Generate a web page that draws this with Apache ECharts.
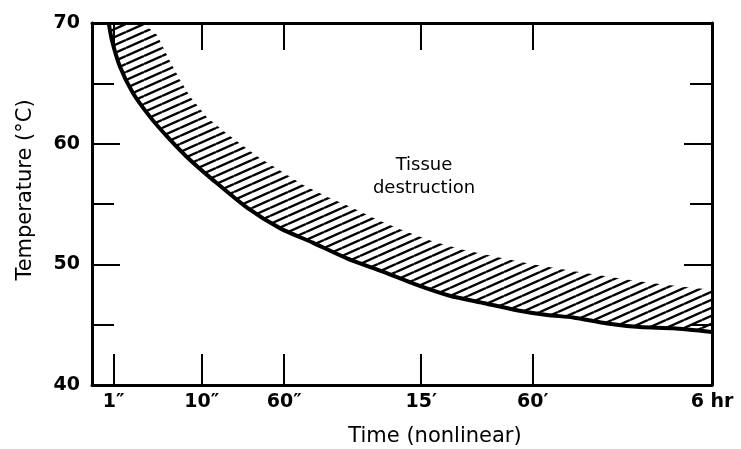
<!DOCTYPE html>
<html>
<head>
<meta charset="utf-8">
<script src="https://cdn.jsdelivr.net/npm/echarts@6/dist/echarts.min.js"></script>
<style>
  html, body { margin: 0; padding: 0; background: #fff; }
  #chart { width: 741px; height: 449px; }
</style>
</head>
<body>
<div id="chart"></div>
<script>
// Nonlinear time scale: axis units 0..100 across the plot
const xTickLabels = ['1\u2033', '10\u2033', '60\u2033', '15\u2032', '60\u2032', '6 hr'];
const xTickValues = [3.5, 17.7, 31.0, 53.1, 71.1, 100];
const yTickValues = [40, 50, 60, 70];

// Lower boundary (thick line) of tissue destruction
const lowerX = [2.7, 3.2, 4.5, 6.6, 9.4, 12.1, 15.3, 19.5, 25.0, 30.3, 35.6, 41.1, 46.9, 52.4, 57.7, 63.1, 68.5, 73.4, 77.6, 83.1, 88.4, 93.7, 100];
const lowerT = [70.0, 68.6, 66.4, 64.2, 62.2, 60.6, 58.9, 57.0, 54.7, 53.0, 51.8, 50.5, 49.4, 48.3, 47.4, 46.8, 46.2, 45.8, 45.6, 45.1, 44.8, 44.7, 44.4];

// Upper edge of the hatched band
const upperX = [8.2, 10.5, 12.6, 14.2, 15.8, 18.5, 21.1, 24.4, 27.1, 30.6, 34.0, 37.9, 41.9, 46.0, 50.2, 55.0, 59.8, 65.3, 71.0, 76.8, 83.1, 89.5, 96.0, 100];
const upperT = [70.0, 69.0, 66.8, 65.3, 63.9, 62.2, 61.1, 59.8, 58.8, 57.7, 56.6, 55.6, 54.7, 53.7, 52.8, 51.9, 51.2, 50.6, 50.0, 49.5, 49.0, 48.5, 48.1, 47.9];

const annotationText = 'Tissue\ndestruction';
const xName = 'Time (nonlinear)';
const yName = 'Temperature (\u00B0C)';

// hatch pattern
function makeHatch() {
  const w = 18, h = 8;
  const c = document.createElement('canvas');
  c.width = w; c.height = h;
  const ctx = c.getContext('2d');
  ctx.strokeStyle = '#000';
  ctx.lineWidth = 2.4;
  for (const off of [-h, 0, h]) {
    ctx.beginPath();
    ctx.moveTo(0, h + off);
    ctx.lineTo(w, 0 + off);
    ctx.stroke();
  }
  return c;
}
const hatch = makeHatch();

const chart = echarts.init(document.getElementById('chart'), null, { renderer: 'canvas' });

const axisFont = { fontFamily: 'DejaVu Sans', fontSize: 19, fontWeight: 'bold', color: '#000' };

function xFormatter(v) {
  for (let i = 0; i < xTickValues.length; i++) {
    if (Math.abs(xTickValues[i] - v) < 1e-6) return xTickLabels[i];
  }
  return '';
}

const yAxisBase = {
  type: 'value', min: 40, max: 70, interval: 10,
  axisLine: { show: true, onZero: false, lineStyle: { color: '#000', width: 3 } },
  axisTick: { show: true, inside: true, length: 28, lineStyle: { color: '#000', width: 2 } },
  minorTick: { show: true, splitNumber: 2, length: 22, lineStyle: { color: '#000', width: 2 } },
  splitLine: { show: false },
  minorSplitLine: { show: false }
};

chart.setOption({
  animation: false,
  backgroundColor: '#fff',
  grid: { left: 92, right: 29, top: 23, bottom: 64 },
  xAxis: [
    {
      type: 'value', min: 0, max: 100, position: 'bottom',
      axisLine: { show: true, onZero: false, lineStyle: { color: '#000', width: 3 } },
      axisTick: { show: true, inside: true, length: 31, customValues: xTickValues, lineStyle: { color: '#000', width: 2 } },
      axisLabel: Object.assign({ customValues: xTickValues, formatter: xFormatter, margin: 8 }, axisFont),
      splitLine: { show: false }
    },
    {
      type: 'value', min: 0, max: 100, position: 'top',
      axisLine: { show: true, onZero: false, lineStyle: { color: '#000', width: 3 } },
      axisTick: { show: true, inside: true, length: 27, customValues: xTickValues, lineStyle: { color: '#000', width: 2 } },
      axisLabel: { show: false },
      splitLine: { show: false }
    }
  ],
  yAxis: [
    Object.assign({}, yAxisBase, {
      position: 'left',
      axisLabel: Object.assign({ margin: 12 }, axisFont)
    }),
    Object.assign({}, yAxisBase, {
      position: 'right',
      axisLabel: { show: false }
    })
  ],
  series: [
    {
      type: 'custom',
      name: 'band',
      coordinateSystem: 'cartesian2d',
      xAxisIndex: 0, yAxisIndex: 0,
      data: [[0, 0]],
      z: 1,
      renderItem: function (params, api) {
        const pts = [];
        for (let i = 0; i < lowerX.length; i++) pts.push(api.coord([lowerX[i], lowerT[i]]));
        for (let i = upperX.length - 1; i >= 0; i--) pts.push(api.coord([upperX[i], upperT[i]]));
        return {
          type: 'polygon',
          shape: { points: pts, smooth: 0 },
          style: { fill: { image: hatch, repeat: 'repeat' }, stroke: null }
        };
      }
    },
    {
      type: 'line',
      name: 'lower',
      xAxisIndex: 0, yAxisIndex: 0,
      data: lowerX.map((x, i) => [x, lowerT[i]]),
      showSymbol: false,
      symbol: 'none',
      smooth: 0.25,
      z: 3,
      lineStyle: { color: '#000', width: 4 }
    }
  ],
  graphic: [
    {
      type: 'text',
      x: 26, y: 190,
      rotation: Math.PI / 2,
      style: { text: yName, fontFamily: 'DejaVu Sans', fontSize: 21, fill: '#000', align: 'center', verticalAlign: 'middle' }
    },
    {
      type: 'text',
      x: 435, y: 437,
      style: { text: xName, fontFamily: 'DejaVu Sans', fontSize: 21, fill: '#000', align: 'center', verticalAlign: 'middle' }
    },
    {
      type: 'text',
      x: 424, y: 177,
      style: { text: annotationText, fontFamily: 'DejaVu Sans', fontSize: 18, lineHeight: 23, fill: '#000', align: 'center', verticalAlign: 'middle' }
    }
  ]
});
</script>
</body>
</html>
